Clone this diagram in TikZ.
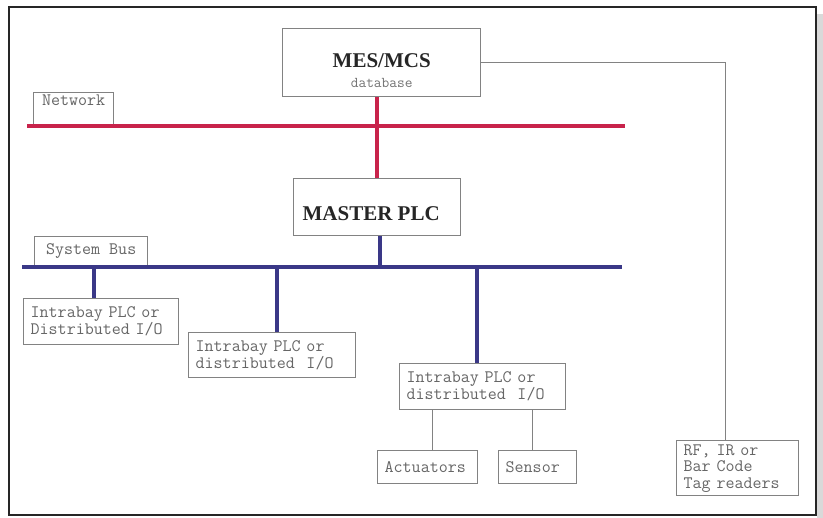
\documentclass[tikz,border=0pt]{standalone}
\usepackage{fontspec}
\setmainfont{Liberation Serif}
\usetikzlibrary{positioning}
\definecolor{netred}{RGB}{200,35,75}
\definecolor{busblue}{RGB}{58,56,135}
\definecolor{boxgray}{RGB}{130,130,130}

\begin{document}
\begin{tikzpicture}[
    x=1pt, y=-1pt,
    box/.style={draw=boxgray, line width=1.4pt, fill=white, anchor=north west, inner xsep=7pt, inner ysep=0pt, align=left, text=black!60, font=\fontsize{17.5}{14.5}\selectfont\ttfamily},
    tagbox/.style={box, anchor=south west, minimum height=31pt},
    title/.style={draw=boxgray, line width=1.4pt, fill=white, anchor=north west, inner sep=0pt, align=center, text=black!85, font=\fontsize{21}{22}\selectfont\bfseries},
    netline/.style={draw=netred, line width=4pt},
    busline/.style={draw=busblue, line width=3.5pt},
    wire/.style={draw=boxgray, line width=1.4pt},
  ]
    \useasboundingbox (0,0) rectangle (823,518);
    % frame
    \fill[black!15] (817,14) rectangle (823,518);
    \draw[black!85, line width=2pt] (9,7) rectangle (816,515);

    % hosts
    \node[title, minimum width=198pt, minimum height=68pt] (mes) at (282,28)
      {\rule{0pt}{30pt}MES/MCS\\[-2pt]{\fontsize{15}{14}\selectfont\mdseries\ttfamily\color{black!55}database}};
    \node[title, minimum width=167pt, minimum height=57pt] (master) at (293,178) {\rule{0pt}{26pt}MASTER PLC\hspace{12pt}};

    % buses
    \coordinate (netW) at (27,126);
    \coordinate (netE) at (625,126);
    \coordinate (busW) at (22,267);
    \coordinate (busE) at (622,267);
    \coordinate (tapN) at (377,126);
    \coordinate (tap0) at (380,267);
    \coordinate (tap1) at (94,267);
    \coordinate (tap2) at (277,267);
    \coordinate (tap3) at (477,267);

    \node[tagbox, minimum width=80pt, minimum height=33pt] (netlbl) at (33,126) {Network\\[2pt]};
    \node[tagbox, minimum width=113pt, minimum height=30pt] (buslbl) at (34,267) {System Bus};

    % field level
    \node[box, text width=141pt, minimum height=46pt] (io1) at (23,298) {Intrabay PLC or\\Distributed I/O};
    \node[box, text width=153pt, minimum height=45pt] (io2) at (188,332) {Intrabay PLC or\\distributed~~I/O};
    \node[box, text width=152pt, minimum height=46pt] (io3) at (399,363) {Intrabay PLC or\\distributed~~I/O};
    \node[box, text width=86pt, minimum height=33pt] (act) at (377,450) {Actuators};
    \node[box, text width=64pt, minimum height=33pt] (sens) at (498,450) {Sensor};
    \node[box, text width=108pt, minimum height=55pt, font=\fontsize{17.5}{16.5}\selectfont\ttfamily] (rf) at (676,440) {RF, IR or\\Bar Code\\Tag readers};

    \draw[netline] (netW) -- (netE);
    \draw[netline] (tapN |- mes.south) -- (tapN |- master.north);
    \draw[busline] (busW) -- (busE);
    \draw[busline] (tap0) -- (tap0 |- master.south);
    \draw[busline] (tap1) -- (tap1 |- io1.north);
    \draw[busline] (tap2) -- (tap2 |- io2.north);
    \draw[busline] (tap3) -- (tap3 |- io3.north);

    \draw[wire] ([xshift=5pt]act.north) -- ([xshift=5pt]act.north |- io3.south);
    \draw[wire] ([xshift=-5pt]sens.north) -- ([xshift=-5pt]sens.north |- io3.south);
    \draw[wire] (mes.east) -| ([xshift=-12pt]rf.north);
  \end{tikzpicture}
\end{document}
